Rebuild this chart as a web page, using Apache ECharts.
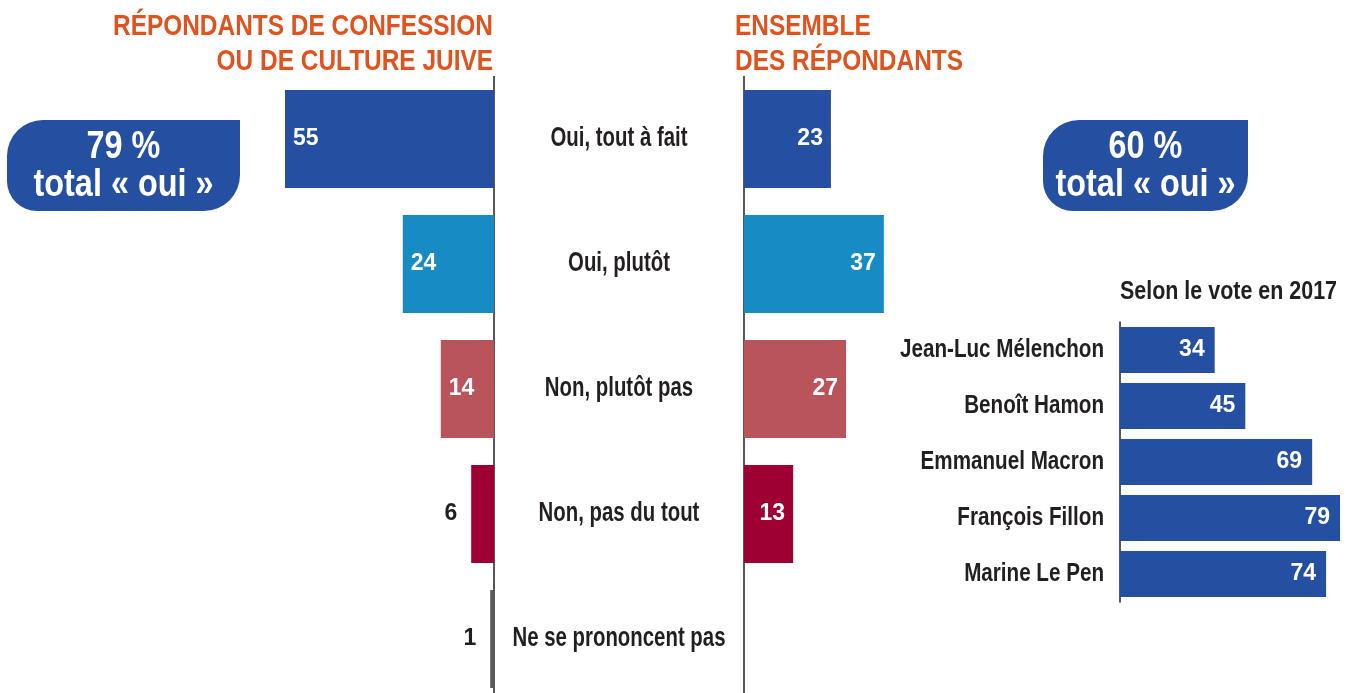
<!DOCTYPE html>
<html>
<head>
<meta charset="utf-8">
<script src="https://cdn.jsdelivr.net/npm/echarts@6/dist/echarts.min.js"></script>
<style>
  html, body { margin: 0; padding: 0; background: #ffffff; }
  #chart { width: 1351px; height: 693px; }
</style>
</head>
<body>
<div id="chart"></div>
<script>
// Answer categories and shares (%)
const answers = ['Oui, tout à fait', 'Oui, plutôt', 'Non, plutôt pas', 'Non, pas du tout', 'Ne se prononcent pas'];
const jewishRespondents = [55, 24, 14, 6, 1];
const allRespondents = [23, 37, 27, 13, null];

// "Oui" share by 2017 vote
const candidates = ['Jean-Luc Mélenchon', 'Benoît Hamon', 'Emmanuel Macron', 'François Fillon', 'Marine Le Pen'];
const candidateYes = [34, 45, 69, 79, 74];

// Headline totals
const totalYesJewish = 79;
const totalYesAll = 60;

const answerColors = ['#2550a2', '#178bc3', '#b9545b', '#9f0033', '#5b5a5f'];
const FONT = '"Liberation Sans", Arial, Helvetica, sans-serif';
const TEXT = '#231f20';
const ORANGE = '#e0531f';
const BLUE = '#2550a2';

const chart = echarts.init(document.getElementById('chart'));

// Horizontal squeeze factor so a bold line of text fits a given width (condensed look)
const measureCtx = document.createElement('canvas').getContext('2d');
function squeeze(text, font, width) {
  measureCtx.font = font;
  return Math.min(1, width / measureCtx.measureText(text).width);
}

const axisLineStyle = { show: true, lineStyle: { color: '#231f20', width: 1.5 } };

function leftBarData() {
  return jewishRespondents.map((v, i) => {
    const small = v < 10;
    return {
      value: v,
      itemStyle: { color: answerColors[i] },
      label: small
        ? { position: 'left', distance: 14, color: TEXT }
        : { position: 'insideLeft', distance: 8, color: '#ffffff' }
    };
  });
}

function rightBarData() {
  return allRespondents.map((v, i) => ({
    value: v,
    itemStyle: { color: answerColors[i] }
  }));
}

const valueLabel = {
  show: true,
  fontFamily: FONT,
  fontWeight: 'bold',
  fontSize: 23,
  color: '#ffffff'
};

// Condensed line of text anchored at (x, y), squeezed horizontally by sx
function condensedText(text, x, y, size, sx, align, fill) {
  return {
    type: 'text',
    x: x, y: y, scaleX: sx, scaleY: 1,
    style: {
      text: text, x: 0, y: 0,
      textAlign: align, textVerticalAlign: 'middle',
      fill: fill, font: 'bold ' + size + 'px ' + FONT
    }
  };
}

function totalBox(x, y, w, h, pct) {
  const sx = squeeze('total « oui »', 'bold 38px ' + FONT, 180);
  return {
    type: 'group',
    children: [
      {
        type: 'rect',
        shape: { x: x, y: y, width: w, height: h, r: [36, 0, 36, 30] },
        style: { fill: BLUE }
      },
      condensedText(pct + ' %', x + w / 2, y + 28, 38, sx, 'center', '#ffffff'),
      condensedText('total « oui »', x + w / 2, y + 66, 38, sx, 'center', '#ffffff')
    ]
  };
}

const titleFont = 'bold 30px ' + FONT;
const leftTitleScale = squeeze('RÉPONDANTS DE CONFESSION', titleFont, 380);
const rightTitleScale = squeeze('DES RÉPONDANTS', titleFont, 228);

const option = {
  backgroundColor: '#ffffff',
  animation: false,
  grid: [
    { left: 0, width: 494, top: 76.5, height: 625, outerBoundsMode: 'none' },
    { left: 744, width: 378, top: 76.5, height: 625, outerBoundsMode: 'none' },
    { left: 1120, width: 278.5, top: 322, height: 280, outerBoundsMode: 'none' }
  ],
  xAxis: [
    { gridIndex: 0, type: 'value', min: 0, max: 130, inverse: true, show: false },
    { gridIndex: 1, type: 'value', min: 0, max: 100, show: false },
    { gridIndex: 2, type: 'value', min: 0, max: 100, show: false }
  ],
  yAxis: [
    {
      gridIndex: 0, type: 'category', data: answers, inverse: true, position: 'right',
      axisLine: axisLineStyle, axisTick: { show: false }, axisLabel: { show: false }
    },
    {
      gridIndex: 1, type: 'category', data: answers, inverse: true, position: 'left',
      axisLine: axisLineStyle, axisTick: { show: false }, axisLabel: { show: false }
    },
    {
      gridIndex: 2, type: 'category', data: candidates, inverse: true, position: 'left',
      axisLine: axisLineStyle, axisTick: { show: false }, axisLabel: { show: false }
    }
  ],
  series: [
    {
      name: 'Répondants de confession ou de culture juive',
      type: 'bar', xAxisIndex: 0, yAxisIndex: 0,
      barWidth: 98, data: leftBarData(),
      label: valueLabel
    },
    {
      name: 'Ensemble des répondants',
      type: 'bar', xAxisIndex: 1, yAxisIndex: 1,
      barWidth: 98, data: rightBarData(),
      label: Object.assign({}, valueLabel, { position: 'insideRight', distance: 8 })
    },
    {
      name: 'Selon le vote en 2017',
      type: 'bar', xAxisIndex: 2, yAxisIndex: 2,
      barWidth: 46, data: candidateYes,
      itemStyle: { color: BLUE },
      label: Object.assign({}, valueLabel, { position: 'insideRight', distance: 10 })
    }
  ]
};

chart.setOption(option);

// Category names in a condensed face, placed on the category axes' own positions
const answerSize = 27;
const answerScale = squeeze('Oui, tout à fait', 'bold ' + answerSize + 'px ' + FONT, 137);
const answerX = chart.convertToPixel({ xAxisIndex: 1 }, 0) - 125;
const answerLabels = answers.map((name, i) =>
  condensedText(name, answerX, chart.convertToPixel({ yAxisIndex: 1 }, i), answerSize, answerScale, 'center', TEXT)
);

const candidateSize = 25;
const candidateScale = squeeze('Jean-Luc Mélenchon', 'bold ' + candidateSize + 'px ' + FONT, 204);
const candidateX = chart.convertToPixel({ xAxisIndex: 2 }, 0) - 16;
const candidateLabels = candidates.map((name, i) =>
  condensedText(name, candidateX, chart.convertToPixel({ yAxisIndex: 2 }, i), candidateSize, candidateScale, 'right', TEXT)
);

chart.setOption({
  graphic: [
    condensedText('RÉPONDANTS DE CONFESSION', 493, 27, 30, leftTitleScale, 'right', ORANGE),
    condensedText('OU DE CULTURE JUIVE', 493, 62, 30, leftTitleScale, 'right', ORANGE),
    condensedText('ENSEMBLE', 735, 27, 30, rightTitleScale, 'left', ORANGE),
    condensedText('DES RÉPONDANTS', 735, 62, 30, rightTitleScale, 'left', ORANGE),
    condensedText('Selon le vote en 2017', candidateX + 16, 292,
      25, squeeze('Selon le vote en 2017', 'bold 25px ' + FONT, 217), 'left', TEXT),
    totalBox(7, 120, 233, 91, totalYesJewish),
    totalBox(1043, 120, 205, 91, totalYesAll)
  ].concat(answerLabels, candidateLabels)
});
</script>
</body>
</html>
